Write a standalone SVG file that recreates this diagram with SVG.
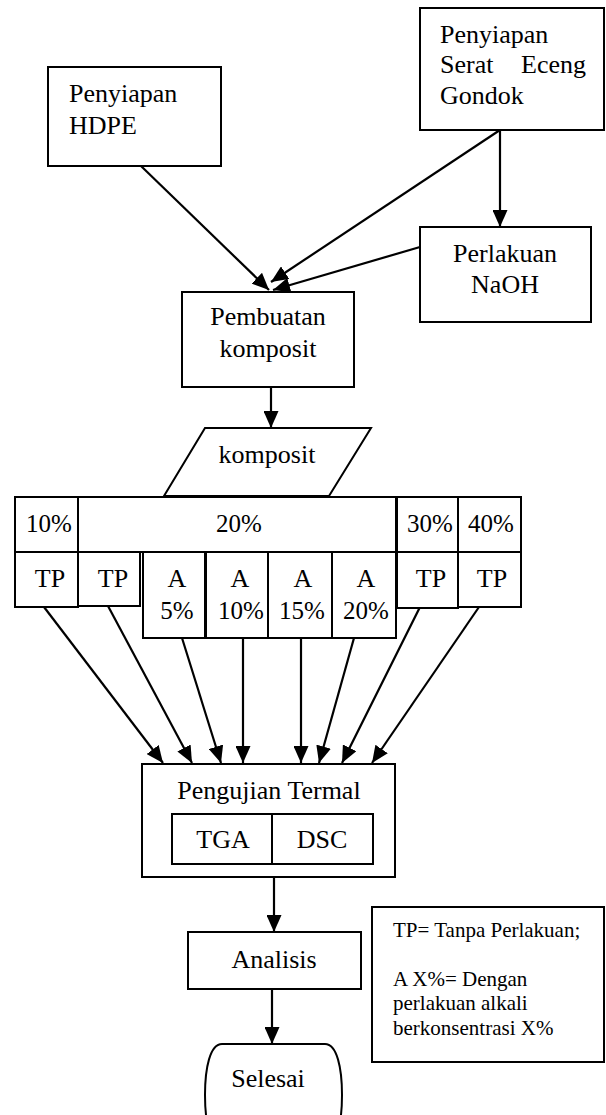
<svg xmlns="http://www.w3.org/2000/svg" width="606" height="1115" viewBox="0 0 606 1115">
<style>
.box{fill:#fff;stroke:#000;stroke-width:2}
.t{font-family:"Liberation Serif","Times New Roman",serif;font-size:26px;fill:#000}
.p{font-size:25px}
.s{font-family:"Liberation Serif","Times New Roman",serif;font-size:21px;fill:#000}
.m{text-anchor:middle}
.c line{stroke:#000;stroke-width:2.2;marker-end:url(#ah)}
</style>
<defs>
<marker id="ah" markerUnits="userSpaceOnUse" markerWidth="17" markerHeight="15" refX="17" refY="7.5" orient="auto" viewBox="0 0 17 15">
<path d="M0,0 L17,7.5 L0,15 Z" fill="#000"/>
</marker>
</defs>
<rect width="606" height="1115" fill="#fff"/>

<g id="connectors" class="c">
<line x1="141" y1="166" x2="269" y2="290"/>
<line x1="500" y1="130" x2="271" y2="282"/>
<line x1="420" y1="247" x2="273" y2="290"/>
<line x1="500" y1="130" x2="500" y2="227"/>
<line x1="271" y1="387" x2="271" y2="428"/>
<line x1="44" y1="607" x2="163" y2="763"/>
<line x1="108" y1="606" x2="192" y2="763"/>
<line x1="182" y1="638" x2="221" y2="763"/>
<line x1="243" y1="638" x2="243" y2="763"/>
<line x1="301" y1="638" x2="301" y2="763"/>
<line x1="354" y1="638" x2="319" y2="763"/>
<line x1="420" y1="607" x2="342" y2="763"/>
<line x1="479" y1="607" x2="372" y2="763"/>
<line x1="274" y1="877" x2="274" y2="932"/>
<line x1="272" y1="989" x2="272" y2="1044"/>
</g>

<g id="hdpe">
<rect class="box" x="48" y="67" width="173" height="99"/>
<text class="t" x="69" y="102">Penyiapan</text>
<text class="t" x="69" y="134">HDPE</text>
</g>

<g id="serat">
<rect class="box" x="420" y="8" width="184" height="122"/>
<text class="t" x="440" y="43">Penyiapan</text>
<text class="t" y="73"><tspan x="440">Serat</tspan><tspan x="586" text-anchor="end">Eceng</tspan></text>
<text class="t" x="440" y="104">Gondok</text>
</g>

<g id="naoh">
<rect class="box" x="420" y="227" width="171" height="95"/>
<text class="t m" x="505" y="262">Perlakuan</text>
<text class="t m" x="505" y="293">NaOH</text>
</g>

<g id="pembuatan">
<rect class="box" x="182" y="292" width="172" height="95"/>
<text class="t m" x="268" y="325">Pembuatan</text>
<text class="t m" x="268" y="357">komposit</text>
</g>

<g id="komposit">
<polygon class="box" points="205,428 371,428 329,496 164,496"/>
<text class="t m" x="267" y="463">komposit</text>
</g>

<g id="p10">
<rect class="box" x="15" y="497" width="63" height="55"/>
<text class="t p m" x="49" y="532">10%</text>
</g>
<g id="p20">
<rect class="box" x="78" y="497" width="318" height="55"/>
<text class="t p m" x="239" y="532">20%</text>
</g>
<g id="p30">
<rect class="box" x="397" y="497" width="61" height="55"/>
<text class="t p m" x="430" y="532">30%</text>
</g>
<g id="p40">
<rect class="box" x="458" y="497" width="63" height="55"/>
<text class="t p m" x="491" y="532">40%</text>
</g>

<g id="tp10">
<rect class="box" x="15" y="552" width="63" height="55"/>
<text class="t m" x="50" y="587">TP</text>
</g>
<g id="tp20">
<rect class="box" x="78" y="552" width="62" height="54"/>
<text class="t m" x="113" y="587">TP</text>
</g>
<g id="a5">
<rect class="box" x="143" y="552" width="62" height="86"/>
<text class="t m" x="177" y="587">A</text>
<text class="t p m" x="177" y="619">5%</text>
</g>
<g id="a10">
<rect class="box" x="206" y="552" width="62" height="86"/>
<text class="t m" x="240" y="587">A</text>
<text class="t p m" x="241" y="619">10%</text>
</g>
<g id="a15">
<rect class="box" x="268" y="552" width="64" height="86"/>
<text class="t m" x="303" y="587">A</text>
<text class="t p m" x="302" y="619">15%</text>
</g>
<g id="a20">
<rect class="box" x="332" y="552" width="64" height="86"/>
<text class="t m" x="366" y="587">A</text>
<text class="t p m" x="366" y="619">20%</text>
</g>
<g id="tp30">
<rect class="box" x="397" y="552" width="61" height="56"/>
<text class="t m" x="431" y="587">TP</text>
</g>
<g id="tp40">
<rect class="box" x="458" y="552" width="63" height="55"/>
<text class="t m" x="492" y="587">TP</text>
</g>

<g id="pengujian">
<rect class="box" x="142" y="764" width="253" height="113"/>
<text class="t m" x="269" y="799">Pengujian Termal</text>
<rect class="box" x="172" y="814" width="100" height="50"/>
<rect class="box" x="272" y="814" width="101" height="50"/>
<text class="t m" x="223" y="848">TGA</text>
<text class="t m" x="322" y="848">DSC</text>
</g>

<g id="analisis">
<rect class="box" x="188" y="932" width="173" height="57"/>
<text class="t m" x="274" y="968">Analisis</text>
</g>

<g id="selesai">
<path class="box" d="M222,1044 H325 C337,1044 342,1068 342,1095 C342,1122 337,1146 325,1146 H222 C210,1146 205,1122 205,1095 C205,1068 210,1044 222,1044 Z"/>
<text class="t m" x="268" y="1087">Selesai</text>
</g>

<g id="legend">
<rect class="box" x="372" y="907" width="232" height="155"/>
<text class="s" x="393" y="937">TP= Tanpa Perlakuan;</text>
<text class="s" x="393" y="986">A X%= Dengan</text>
<text class="s" x="393" y="1010">perlakuan alkali</text>
<text class="s" x="393" y="1035">berkonsentrasi X%</text>
</g>
</svg>
